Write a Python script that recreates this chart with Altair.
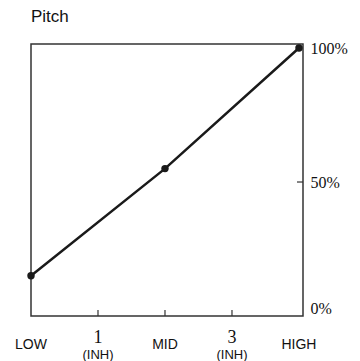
import altair as alt
import pandas as pd

# data
levels = [0, 2, 4]
pitch = [15, 55, 100]

tick_pos = [0, 1, 2, 3, 4]
word_labels = ["LOW", "", "MID", "", "HIGH"]
digit_labels = ["", "1", "", "3", ""]
sub_labels = ["", "(INH)", "", "(INH)", ""]
inner_ticks = [1, 2, 3]
pct_ticks = [0, 50, 100]
right_inner_ticks = [50]

W, H = 272, 272
xs = alt.Scale(domain=[0, 4.06], nice=False)
ys = alt.Scale(domain=[0, 101.5], nice=False)

df = pd.DataFrame({"level": levels, "pitch": pitch})
lab = pd.DataFrame({"pos": tick_pos, "word": word_labels, "digit": digit_labels, "sub": sub_labels})
lab_w = lab[lab.word != ""]
lab_d = lab[lab.digit != ""]
tk = pd.DataFrame({"pos": inner_ticks})
rtk = pd.DataFrame({"v": right_inner_ticks})

SANS = "Liberation Sans, Arial, sans-serif"
SERIF = "Liberation Serif, Times New Roman, serif"
INK = "#1a1a1a"

line = alt.Chart(df).mark_line(color=INK, strokeWidth=2.5).encode(
    x=alt.X("level:Q", scale=xs, axis=None),
    y=alt.Y("pitch:Q", scale=ys, axis=alt.Axis(
        orient="right", values=pct_ticks, labelExpr="datum.value + '%'",
        ticks=False, domain=False, grid=False, title=None,
        labelFont=SERIF, labelFontSize=16, labelColor="#111",
        labelPadding=7, labelFlush=True)),
)
pts = alt.Chart(df).mark_point(filled=True, color=INK, size=55, opacity=1).encode(
    x=alt.X("level:Q", scale=xs), y=alt.Y("pitch:Q", scale=ys)
)

ticks = alt.Chart(tk).mark_rule(color="#333", strokeWidth=1.2).encode(
    x=alt.X("pos:Q", scale=xs), y=alt.value(H), y2=alt.value(H - 6)
)
rticks = alt.Chart(rtk).mark_rule(color="#333", strokeWidth=1.2).encode(
    y=alt.Y("v:Q", scale=ys), x=alt.value(W), x2=alt.value(W - 6)
)

words = alt.Chart(lab_w).mark_text(font=SANS, fontSize=14, color="#111", baseline="middle").encode(
    x=alt.X("pos:Q", scale=xs), y=alt.value(H + 29), text="word:N"
)
digits = alt.Chart(lab_d).mark_text(font=SERIF, fontSize=18, color="#111", baseline="middle").encode(
    x=alt.X("pos:Q", scale=xs), y=alt.value(H + 22), text="digit:N"
)
subs = alt.Chart(lab_d).mark_text(font=SANS, fontSize=13, color="#111", baseline="middle").encode(
    x=alt.X("pos:Q", scale=xs), y=alt.value(H + 39), text="sub:N"
)

chart = alt.layer(line, pts, ticks, rticks, words, digits, subs).properties(
    width=W, height=H,
    autosize=alt.AutoSizeParams(type="none"),
    padding={"left": 23, "top": 36, "right": 49, "bottom": 45},
    title=alt.TitleParams("Pitch", anchor="start", frame="group", font=SANS, fontSize=17,
                          fontWeight="normal", color="#111", offset=14),
).configure_view(stroke="#333", strokeWidth=1.5).configure_axis(grid=False)

chart.save("out.html", embed_options={"renderer": "svg", "actions": False})
